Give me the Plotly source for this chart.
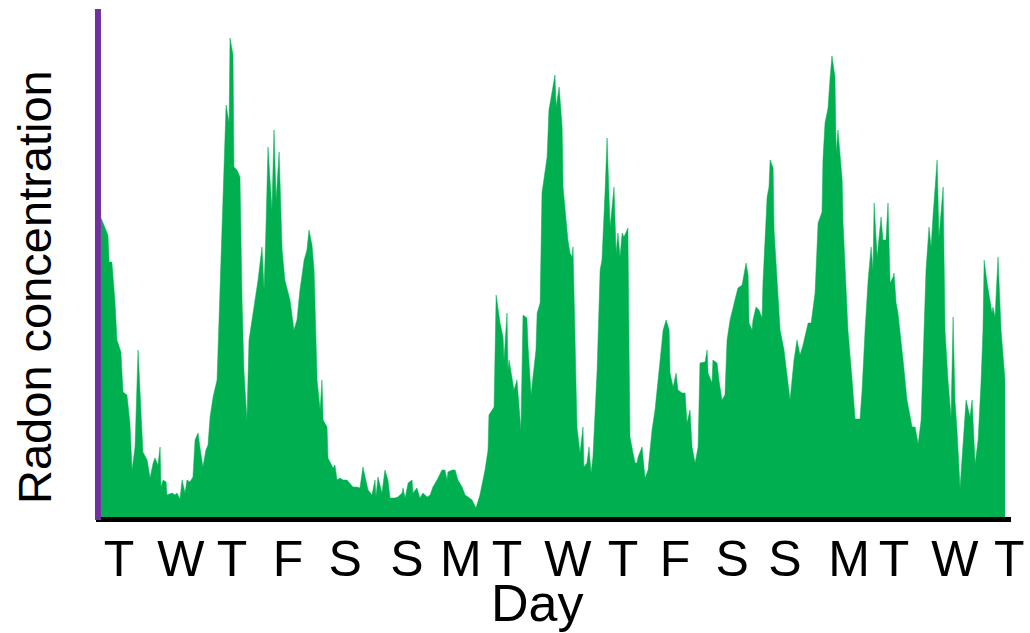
import plotly.graph_objects as go

# Hours since the start of the record and the radon reading at each hour mark
hours = [
    0.0, 1.3, 3.0, 3.5, 4.7, 6.0, 6.9, 8.6, 9.5, 11.2,
    11.7, 12.5, 13.4, 14.7, 16.0, 16.8, 18.1, 19.9, 21.2, 22.5,
    23.3, 24.6, 25.5, 25.9, 26.8, 28.1, 28.5, 30.7, 32.0, 32.8,
    34.1, 35.0, 36.3, 37.1, 38.4, 39.7, 40.6, 41.5, 41.9, 42.7,
    44.0, 45.3, 46.2, 47.1, 48.4, 50.1, 50.9, 51.8, 52.7, 53.5,
    54.0, 55.3, 55.7, 57.0, 57.4, 58.7, 60.0, 60.9, 61.7, 63.0,
    63.9, 65.2, 66.5, 67.8, 69.5, 70.4, 71.2, 72.1, 73.8, 74.7,
    75.6, 76.9, 78.2, 79.4, 81.6, 83.3, 84.6, 85.9, 87.7, 88.9,
    89.8, 91.1, 92.0, 92.8, 93.3, 94.6, 95.4, 95.9, 97.6, 98.0,
    100.2, 101.0, 101.9, 103.2, 104.5, 106.2, 107.5, 108.8, 110.5, 111.8,
    113.1, 114.0, 115.3, 117.0, 118.3, 118.7, 119.6, 121.3, 122.6, 123.9,
    124.8, 126.9, 128.2, 130.0, 130.4, 131.3, 132.6, 134.3, 134.7, 136.4,
    137.7, 139.0, 140.8, 142.1, 143.3, 145.1, 147.2, 148.5, 149.4, 149.8,
    151.6, 152.9, 154.1, 155.9, 157.2, 158.5, 160.2, 161.9, 163.6, 165.8,
    167.1, 167.5, 168.8, 169.7, 170.6, 172.3, 173.6, 174.0, 175.3, 175.7,
    176.2, 177.5, 178.3, 179.6, 180.5, 181.3, 182.2, 183.9, 184.4, 185.7,
    186.5, 187.8, 188.3, 189.6, 190.4, 192.6, 193.4, 194.7, 196.0, 196.5,
    197.8, 199.1, 199.5, 201.2, 201.6, 202.5, 203.4, 203.8, 204.7, 205.5,
    206.8, 208.1, 208.5, 209.8, 210.7, 211.6, 212.4, 214.2, 215.5, 216.3,
    217.6, 218.5, 219.8, 221.5, 222.4, 223.2, 224.1, 225.0, 225.8, 226.7,
    227.5, 228.0, 228.4, 229.7, 230.6, 231.4, 231.9, 233.6, 234.9, 236.2,
    237.9, 239.2, 240.1, 241.4, 242.7, 244.0, 245.3, 245.7, 247.0, 248.3,
    249.1, 250.9, 252.2, 253.0, 254.3, 255.2, 256.5, 257.8, 258.6, 260.8,
    261.7, 262.1, 263.8, 264.2, 266.0, 266.8, 268.1, 269.4, 270.3, 271.6,
    273.7, 275.0, 276.8, 278.5, 279.4, 279.8, 281.1, 281.5, 282.8, 284.1,
    285.4, 285.8, 287.6, 288.4, 288.9, 290.2, 290.6, 291.9, 293.2, 294.9,
    296.6, 297.5, 299.2, 300.5, 301.8, 303.1, 305.3, 306.6, 308.3, 309.2,
    309.6, 311.3, 311.7, 312.6, 313.9, 314.8, 315.6, 316.9, 317.4, 318.2,
    320.0, 320.4, 321.7, 322.5, 324.3, 325.6, 327.7, 328.6, 329.9, 331.2,
    332.5, 333.3, 333.8, 335.1, 336.8, 337.6, 338.9, 339.8, 340.7, 342.0,
    342.4, 343.3, 344.1, 345.0, 346.3, 348.0, 350.2, 351.5, 352.8, 354.1,
    355.4, 356.2, 357.5, 358.4, 359.2, 361.0, 361.8, 363.6, 364.4, 365.7,
    367.0, 367.9, 368.7, 369.6, 370.9, 372.2, 373.5, 375.2, 376.1, 377.4,
    378.7, 380.0, 380.8, 381.3, 382.6, 384.7, 385.1, 386.0, 387.3, 388.6,
    389.5, 390.3,
]

radon = [
    299, 292, 282, 255, 255, 217, 177, 165, 125, 122,
    109, 94, 47, 70, 167, 130, 65, 57, 39, 54,
    59, 52, 70, 30, 37, 35, 22, 24, 22, 24,
    18, 37, 24, 37, 35, 40, 77, 82, 84, 70,
    50, 67, 72, 100, 120, 137, 197, 257, 317, 384,
    412, 394, 479, 462, 350, 347, 340, 217, 147, 97,
    177, 197, 217, 237, 270, 227, 287, 370, 307, 387,
    317, 365, 267, 237, 217, 187, 197, 227, 257, 267,
    287, 272, 247, 187, 137, 107, 137, 97, 90, 59,
    49, 52, 37, 39, 37, 37, 34, 30, 30, 29,
    50, 40, 27, 22, 37, 20, 40, 24, 47, 37,
    19, 19, 20, 24, 29, 19, 34, 37, 24, 29,
    19, 24, 20, 22, 30, 37, 47, 47, 37, 45,
    47, 47, 37, 30, 22, 20, 17, 9, 22, 47,
    67, 102, 107, 110, 222, 194, 180, 157, 204, 147,
    157, 140, 127, 137, 107, 87, 202, 199, 170, 122,
    140, 167, 204, 214, 324, 360, 407, 427, 442, 410,
    430, 390, 330, 287, 277, 264, 260, 270, 187, 90,
    64, 90, 50, 54, 70, 44, 60, 147, 247, 257,
    324, 379, 290, 330, 264, 284, 260, 284, 280, 285,
    289, 167, 80, 64, 54, 54, 60, 70, 39, 47,
    87, 107, 130, 157, 187, 197, 187, 144, 130, 144,
    127, 124, 124, 94, 107, 70, 54, 70, 154, 155,
    167, 144, 134, 157, 154, 137, 117, 122, 177, 197,
    217, 229, 232, 254, 242, 194, 187, 197, 210, 207,
    199, 234, 320, 330, 357, 349, 287, 234, 187, 167,
    137, 117, 157, 177, 162, 172, 194, 194, 224, 264,
    294, 305, 357, 394, 409, 440, 461, 440, 364, 387,
    337, 294, 220, 187, 137, 98, 98, 127, 187, 237,
    270, 247, 314, 260, 300, 277, 277, 314, 234, 240,
    244, 214, 204, 187, 157, 117, 90, 90, 73, 97,
    187, 247, 290, 270, 300, 357, 280, 330, 187, 137,
    100, 200, 117, 87, 29, 77, 117, 100, 117, 53,
    77, 137, 187, 257, 234, 204, 210, 200, 260, 187,
    157, 137,
]

# Weekday initials and the hour each one sits under
day_labels = ["T", "W", "T", "F", "S", "S", "M", "T", "W",
              "T", "F", "S", "S", "M", "T", "W", "T"]
label_hours = [7.8, 34.5, 56.6, 80.7, 105.4, 132.1, 155.4, 175.3, 201.6,
               225.4, 247.8, 272.5, 295.3, 323.0, 342.4, 368.7, 392.1]

GREEN = "#00B050"
PURPLE = "#7030A0"
FONT = "Liberation Sans, Arial, Helvetica, sans-serif"

X_RANGE = [-2.16, 401.1]
Y_RANGE = [-2, 508]

fig = go.Figure()
fig.add_trace(go.Scatter(
    x=hours, y=radon, mode="lines", fill="tozeroy",
    fillcolor=GREEN, line=dict(color=GREEN, width=0.5),
    hoverinfo="skip", showlegend=False,
))

fig.update_layout(
    width=1030, height=633,
    margin=dict(l=96, r=0, t=9, b=114),
    paper_bgcolor="white", plot_bgcolor="white",
    font=dict(family=FONT, color="black"),
    showlegend=False,
)

fig.update_xaxes(
    range=X_RANGE, tickmode="array", tickvals=label_hours, ticktext=day_labels,
    tickfont=dict(size=50, family=FONT, color="black"),
    showgrid=False, zeroline=False, showline=False, ticks="",
    ticklabelstandoff=6,
)
fig.update_yaxes(
    range=Y_RANGE, showgrid=False, zeroline=False,
    showticklabels=False, showline=False, ticks="",
)

# Axis lines: black baseline that stops just past the last reading, purple left edge
fig.add_shape(type="line", xref="paper", yref="paper",
              x0=0, x1=0.9797, y0=-0.001, y1=-0.001,
              line=dict(color="black", width=5))
fig.add_shape(type="line", xref="paper", yref="paper",
              x0=0.0021, x1=0.0021, y0=-0.002, y1=1.0,
              line=dict(color=PURPLE, width=6))

fig.add_annotation(text="Day", xref="x", yref="paper", x=188.3, y=-0.104,
                   xanchor="center", yanchor="top", showarrow=False,
                   font=dict(size=52, family=FONT, color="black"))
fig.add_annotation(text="Radon concentration", xref="paper", yref="paper",
                   x=-0.0664, y=0.4549, xanchor="center", yanchor="middle",
                   textangle=-90, showarrow=False,
                   font=dict(size=47, family=FONT, color="black"))

fig.write_html("out.html")
